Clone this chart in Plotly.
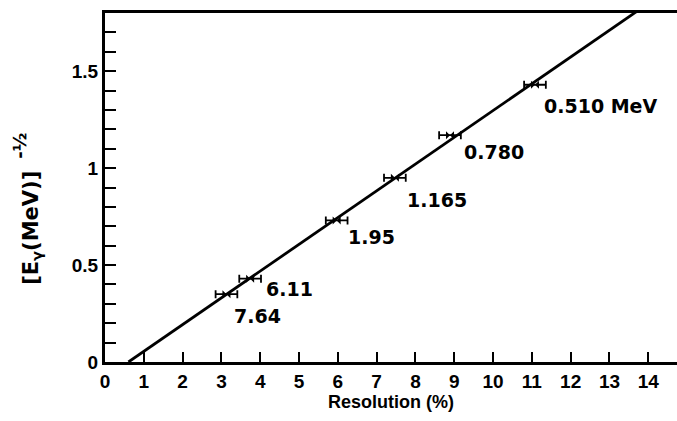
import numpy as np
import plotly.graph_objects as go

# Measured photopeak resolution vs. gamma energy
energy_labels = ["7.64", "6.11", "1.95", "1.165", "0.780", "0.510 MeV"]
resolution_pct = [3.13, 3.74, 5.97, 7.47, 8.89, 11.08]
inv_sqrt_energy = [0.35, 0.43, 0.73, 0.95, 1.17, 1.43]
resolution_err = [0.28, 0.28, 0.28, 0.28, 0.28, 0.28]

x_ticks = list(range(0, 15))
y_ticks = [0, 0.5, 1, 1.5]
y_ticktext = ["0", "0.5", "1", "1.5"]

X_RANGE = [0, 14.74]
Y_RANGE = [0, 1.8]

# straight-line fit through the points
slope, intercept = np.polyfit(resolution_pct, inv_sqrt_energy, 1)
x_root = -intercept / slope
fit_x = np.array([x_root, X_RANGE[1]])
fit_y = slope * fit_x + intercept

FONT = "Liberation Sans"
LABEL_FONT = "DejaVu Sans"

fig = go.Figure()
fig.add_trace(go.Scatter(
    x=fit_x, y=fit_y, mode="lines",
    line=dict(color="black", width=2.8),
    hoverinfo="skip", showlegend=False,
))
fig.add_trace(go.Scatter(
    x=resolution_pct, y=inv_sqrt_energy, mode="markers",
    marker=dict(symbol="bowtie", size=8, color="black"),
    error_x=dict(type="data", array=resolution_err, color="black",
                 thickness=1.8, width=4),
    showlegend=False,
))

# energy labels beside each point
label_shift = [(6, -22), (14, -10), (9, -17), (10, -22), (12, -17), (7, -21)]
for xv, yv, txt, (dx, dy) in zip(resolution_pct, inv_sqrt_energy, energy_labels, label_shift):
    fig.add_annotation(
        x=xv, y=yv, xref="x", yref="y", text=f"<b>{txt}</b>",
        showarrow=False, xanchor="left", yanchor="middle",
        xshift=dx, yshift=dy,
        font=dict(family=LABEL_FONT, size=19, color="black"),
    )

# vertical axis title, with a full-size exponent
fig.add_annotation(
    x=-0.129, y=0.385, xref="paper", yref="paper",
    text="<b>[E<sub>γ</sub>(MeV)]</b>", textangle=-90, showarrow=False,
    xanchor="center", yanchor="middle",
    font=dict(family=LABEL_FONT, size=21, color="black"),
)
fig.add_annotation(
    x=-0.150, y=0.62, xref="paper", yref="paper",
    text="<b>-½</b>", textangle=-90, showarrow=False,
    xanchor="center", yanchor="middle",
    font=dict(family=LABEL_FONT, size=18, color="black"),
)

fig.update_layout(
    width=677, height=421,
    margin=dict(l=105, r=0, t=13, b=59),
    paper_bgcolor="white", plot_bgcolor="white",
    font=dict(family=FONT, color="black"),
)
fig.update_xaxes(
    range=X_RANGE, tickvals=x_ticks, ticktext=[f"<b>{v}</b>" for v in x_ticks],
    ticks="inside", ticklen=10, tickwidth=2, tickcolor="black",
    showline=True, linewidth=3, linecolor="black", mirror=True,
    showgrid=False, zeroline=False,
    tickfont=dict(family=FONT, size=19), ticklabelstandoff=0,
    title=dict(text="<b>Resolution (%)</b>", font=dict(family=FONT, size=18), standoff=4),
)
fig.update_yaxes(
    range=Y_RANGE, tickvals=y_ticks, ticktext=[f"<b>{t}</b>" for t in y_ticktext],
    ticks="inside", ticklen=11, tickwidth=2, tickcolor="black",
    minor=dict(dtick=0.1, ticks="inside", ticklen=11, tickwidth=2,
               tickcolor="black", showgrid=False),
    showline=True, linewidth=3, linecolor="black",
    showgrid=False, zeroline=False,
    tickfont=dict(family=FONT, size=19),
)

fig.write_html("out.html")
